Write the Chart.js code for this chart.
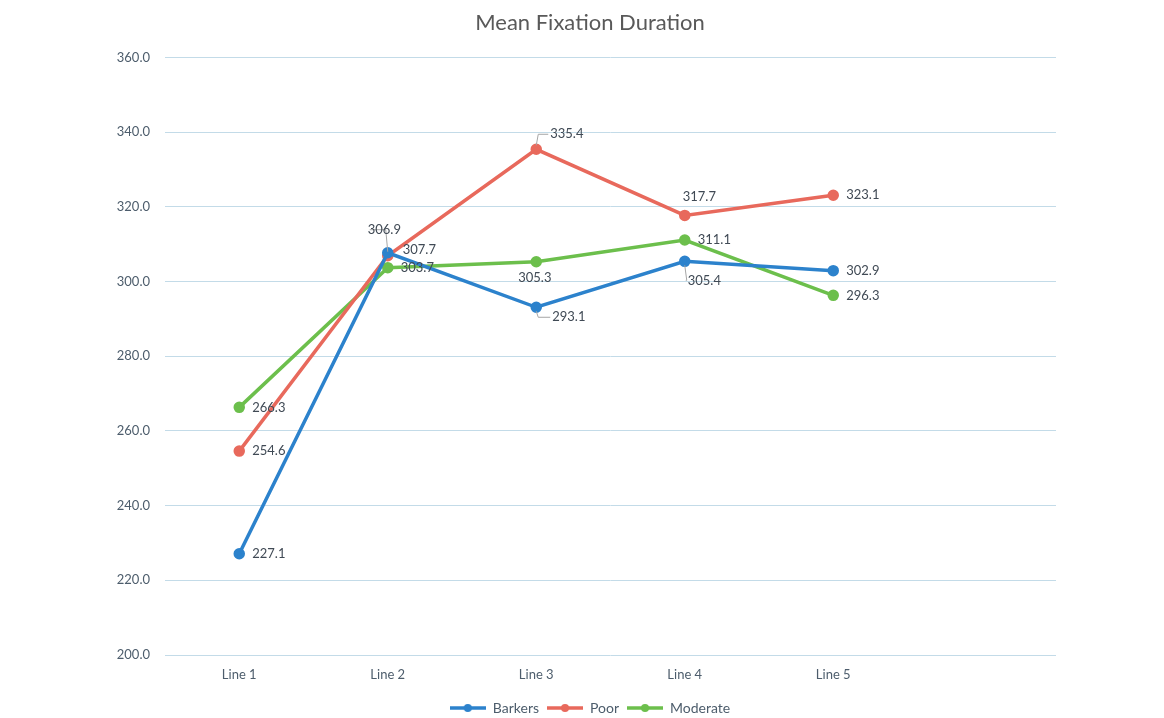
<!DOCTYPE html>
<html>
<head>
<meta charset="utf-8">
<script src="https://cdn.jsdelivr.net/npm/chart.js@4"></script>
<style>
html,body{margin:0;padding:0;background:#fff;}
#wrap{width:1164px;height:718px;position:relative;}
</style>
</head>
<body>
<div id="wrap"><canvas id="c" width="1164" height="718"></canvas></div>
<script>
const categories = ["Line 1", "Line 2", "Line 3", "Line 4", "Line 5", ""];
const seriesNames = ["Barkers", "Poor", "Moderate"];
const barkers = [227.1, 307.7, 293.1, 305.4, 302.9, null];
const poor = [254.6, 306.9, 335.4, 317.7, 323.1, null];
const moderate = [266.3, 303.7, 305.3, 311.1, 296.3, null];
const yTicks = [200, 220, 240, 260, 280, 300, 320, 340, 360];

const colors = ["#2c82cc", "#e8695c", "#6cbf4c"];
const textColor = "#4d5d6c";
const fontFamily = "Lato, 'Open Sans', sans-serif";

// label placement (pixel offsets from point) and leader flag
const labelOffsets = [
  [[13,0],[15,-3],[16,10],[3,19],[13,0]],
  [[13,0],[-20,-26],[14,-15],[-2,-19],[13,0]],
  [[13,0],[13,0],[-18,16],[13,0],[13,0]]
];
const leaders = [
  [false,false,true,true,false],
  [false,true,true,false,false],
  [false,false,false,false,false]
];

function legendIcon(color){
  const cv = document.createElement('canvas');
  cv.width = 36; cv.height = 10;
  const g = cv.getContext('2d');
  g.strokeStyle = color; g.lineWidth = 3.5;
  g.beginPath(); g.moveTo(0,5); g.lineTo(36,5); g.stroke();
  g.fillStyle = color; g.beginPath(); g.arc(18,5,4,0,Math.PI*2); g.fill();
  return cv;
}

const labelPlugin = {
  id: 'valLabels',
  afterDatasetsDraw(chart){
    const ctx = chart.ctx;
    ctx.save();
    ctx.font = "13px " + fontFamily;
    ctx.fillStyle = "#404a55";
    ctx.textBaseline = "middle";
    chart.data.datasets.forEach((ds, di) => {
      const meta = chart.getDatasetMeta(di);
      meta.data.forEach((pt, i) => {
        const v = ds.data[i];
        if (v === null || v === undefined) return;
        const off = labelOffsets[di][i];
        const x = pt.x + off[0], y = pt.y + off[1];
        if (leaders[di][i]) {
          ctx.strokeStyle = "#a6a6a6"; ctx.lineWidth = 1;
          ctx.beginPath();
          ctx.moveTo(pt.x, pt.y + (off[1] > 0 ? 4 : -4));
          ctx.lineTo(pt.x + (off[0] > 0 ? 2 : -2) , y);
          ctx.lineTo(x - (off[0] > 0 ? 2 : -2) , y);
          ctx.stroke();
        }
        ctx.textAlign = "left";
        ctx.fillText(v.toFixed(1), x, y);
      });
    });
    ctx.restore();
  }
};

const datasets = [barkers, poor, moderate].map((d, i) => ({
  label: seriesNames[i],
  data: d,
  borderColor: colors[i],
  backgroundColor: colors[i],
  borderWidth: 3.5,
  pointRadius: 4,
  pointHoverRadius: 4,
  pointBackgroundColor: colors[i],
  pointBorderColor: colors[i],
  pointStyle: 'circle',
  _icon: legendIcon(colors[i]),
  tension: 0,
  spanGaps: false
}));

new Chart(document.getElementById('c'), {
  type: 'line',
  data: { labels: categories, datasets },
  options: {
    responsive: false,
    animation: false,
    layout: { padding: { left: 16, right: 0, top: 10, bottom: -7 } },
    plugins: {
      title: {
        display: true,
        text: "Mean Fixation Duration",
        color: "#595959",
        font: { family: fontFamily, size: 22, weight: 'normal' },
        padding: { top: 0, bottom: 21 }
      },
      legend: {
        position: 'bottom',
        labels: {
          color: textColor,
          font: { family: fontFamily, size: 14 },
          usePointStyle: true,
          pointStyleWidth: 36,
          boxHeight: 10,
          padding: 8,
          generateLabels(chart){
            return chart.data.datasets.map((ds, i) => ({
              text: ds.label,
              pointStyle: ds._icon,
              fillStyle: ds.borderColor,
              strokeStyle: ds.borderColor,
              fontColor: textColor,
              lineWidth: 0,
              hidden: false,
              datasetIndex: i
            }));
          }
        }
      },
      tooltip: { enabled: false }
    },
    scales: {
      x: {
        offset: true,
        grid: { display: false },
        border: { display: false },
        ticks: { color: textColor, font: { family: fontFamily, size: 13 }, padding: 4, maxRotation: 0 },
        afterFit(s){ s.height = 38; }
      },
      y: {
        min: 200, max: 360,
        afterBuildTicks(s){ s.ticks = yTicks.map(v => ({ value: v })); },
        grid: { color: "#c3dbe8", lineWidth: 1, drawTicks: false },
        border: { display: false },
        ticks: {
          color: textColor,
          font: { family: fontFamily, size: 13 },
          padding: 15,
          callback: v => Number(v).toFixed(1)
        },
        afterFit(s){ s.width = 149; }
      },
      yRight: {
        position: 'right',
        display: true,
        grid: { display: false, drawTicks: false },
        border: { display: false },
        ticks: { display: false },
        afterFit(s){ s.width = 108; }
      }
    }
  },
  plugins: [labelPlugin]
});
</script>
</body>
</html>
